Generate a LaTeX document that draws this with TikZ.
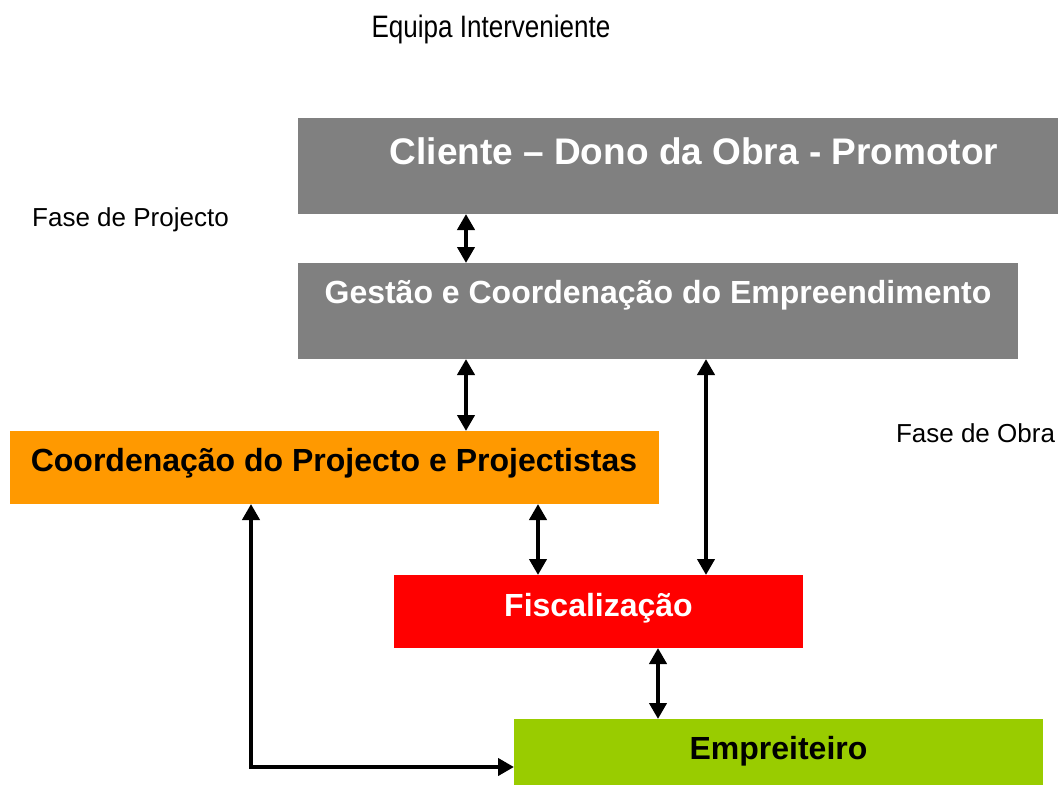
\documentclass[tikz,border=0pt]{standalone}
\usepackage{fontspec}
\setmainfont{Liberation Sans}
\usetikzlibrary{arrows.meta}
\definecolor{boxgray}{RGB}{128,128,128}
\definecolor{boxorange}{RGB}{255,153,0}
\definecolor{boxred}{RGB}{255,0,0}
\definecolor{boxgreen}{RGB}{153,204,0}
\begin{document}
\begin{tikzpicture}[x=1pt,y=-1pt,
  box/.style={draw=none, inner sep=0pt, outer sep=0pt, anchor=north west},
  boxtext/.style={anchor=base, font=\fontsize{32}{36}\selectfont\bfseries},
  plain/.style={anchor=base, font=\fontsize{26}{30}\selectfont},
  dbl/.style={line width=4.6pt, {Triangle[width=17pt,length=16pt]}-{Triangle[width=17pt,length=16pt]}}]
\useasboundingbox (0,0) rectangle (1058,785);
% boxes
\node[box, fill=boxgray, minimum width=760pt, minimum height=96pt] (cli) at (298,118) {};
\node[box, fill=boxgray, minimum width=720pt, minimum height=96pt] (ges) at (298,263) {};
\node[box, fill=boxorange, minimum width=649pt, minimum height=73pt] (coo) at (10,431) {};
\node[box, fill=boxred, minimum width=409pt, minimum height=73pt] (fis) at (394,575) {};
\node[box, fill=boxgreen, minimum width=529pt, minimum height=66pt] (emp) at (514,719) {};
% texts
\node[boxtext, text=white, font=\fontsize{37}{40}\selectfont\bfseries] (clit) at (694,164) {Cliente – Dono da Obra - Promotor};
\node[boxtext, text=white] (gest) at (658,303) {Gestão e Coordenação do Empreendimento};
\node[boxtext, text=black] (coot) at (334,471) {Coordenação do Projecto e Projectistas};
\node[boxtext, text=white] (fist) at (598.5,616) {Fiscalização};
\node[boxtext, text=black] (empt) at (778.5,759) {Empreiteiro};
\node[anchor=base, font=\fontsize{31}{34}\selectfont] (title) at (491,37) {\scalebox{0.84}[1]{Equipa Interveniente}};
\node[plain] (fp) at (130.5,226) {Fase de Projecto};
\node[plain] (fo) at (975.5,442) {Fase de Obra};
% connectors
\draw[dbl] ([xshift=168pt]cli.south west) -- ([xshift=168pt]ges.north west);
\draw[dbl] ([xshift=168pt]ges.south west) -- ([xshift=456pt]coo.north west);
\draw[dbl] ([xshift=408pt]ges.south west) -- ([xshift=312pt]fis.north west);
\draw[dbl] ([xshift=528pt]coo.south west) -- ([xshift=144pt]fis.north west);
\draw[dbl] ([xshift=264pt]fis.south west) -- ([xshift=144pt]emp.north west);
\draw[dbl, line join=miter] ([xshift=241pt]coo.south west) |- ([yshift=18pt]emp.south west);
\end{tikzpicture}
\end{document}
